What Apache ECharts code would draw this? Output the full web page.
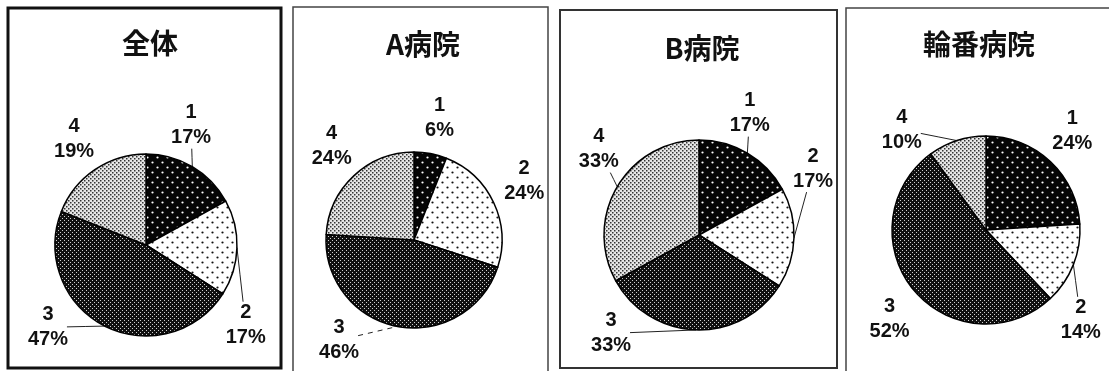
<!DOCTYPE html>
<html><head><meta charset="utf-8">
<script src="https://cdn.jsdelivr.net/npm/echarts@6/dist/echarts.min.js"></script>
<style>html,body{margin:0;padding:0;background:#fff}#c{width:1109px;height:371px}</style>
</head><body><div id="c"></div>
<script>
// ---- data ----
const titles = ['全体', 'A病院', 'B病院', '輪番病院'];
const categories = ['1', '2', '3', '4'];
const valuesAll = [17, 17, 47, 19];
const valuesA = [6, 24, 46, 24];
const valuesB = [17, 17, 33, 33];
const valuesR = [24, 14, 52, 10];
const seriesValues = [valuesAll, valuesA, valuesB, valuesR];

// ---- layout / style ----
const panels = [
  {box: [8, 8, 273, 360], border: 3, stroke: '#111', center: [146, 245], r: 91, title: [150, 43], shifts: [-10, 37, 23, 0], dash: 'solid'},
  {box: [293, 7, 255, 380], border: 1.5, stroke: '#444', center: [414, 240], r: 88, title: [423, 44], shifts: [1, -3, 26, 2], dash: [5, 5]},
  {box: [560, 10, 277, 358], border: 2, stroke: '#333', center: [699, 235], r: 95, title: [702, 48], shifts: [-8, -32, 40, 10], dash: 'solid'},
  {box: [846, 8, 280, 380], border: 1.5, stroke: '#444', center: [986, 230], r: 94, title: [979, 44], shifts: [-2, 22, -3, -22], dash: 'solid'}
];

function makePattern(size, bg, fg, dots, dotR) {
  const c = document.createElement('canvas');
  c.width = size; c.height = size;
  const g = c.getContext('2d');
  g.fillStyle = bg; g.fillRect(0, 0, size, size);
  g.fillStyle = fg;
  dots.forEach(d => {
    g.beginPath(); g.arc(d[0], d[1], dotR, 0, Math.PI * 2); g.fill();
  });
  return {image: c, repeat: 'repeat'};
}
function makePixelPattern(size, bg, fg, px) {
  const c = document.createElement('canvas');
  c.width = size; c.height = size;
  const g = c.getContext('2d');
  g.fillStyle = bg; g.fillRect(0, 0, size, size);
  g.fillStyle = fg;
  px.forEach(p => g.fillRect(p[0], p[1], p[2], p[2]));
  return {image: c, repeat: 'repeat'};
}
const fills = [
  makePattern(10, '#050505', '#ffffff', [[2.5, 2.5], [7.5, 7.5]], 1.1),
  makePattern(10, '#ffffff', '#111111', [[2.5, 2.5], [7.5, 7.5]], 1.1),
  makePixelPattern(4, '#101010', '#d0d0d0', [[0, 0, 1], [2, 2, 1]]),
  makePixelPattern(4, '#e6e6e6', '#333333', [[0, 0, 1.5], [2, 2, 1.5]])
];

function makeLabelLayout(pi) {
  return function (params) {
    const p = panels[pi];
    const vals = seriesValues[pi];
    const i = params.dataIndex;
    const total = vals.reduce((a, b) => a + b, 0);
    let cum = 0;
    for (let k = 0; k < i; k++) cum += vals[k];
    const mid = (cum + vals[i] / 2) / total * 360;
    const ang = (mid + p.shifts[i]) * Math.PI / 180;
    const D = p.r + 37;
    const cx = p.center[0] + D * Math.sin(ang);
    const cy = p.center[1] - D * Math.cos(ang);
    const m = mid * Math.PI / 180;
    const px = p.center[0] + p.r * Math.sin(m);
    const py = p.center[1] - p.r * Math.cos(m);
    const hw = params.labelRect.width / 2 - 4, hh = params.labelRect.height / 2 + 1;
    const vx = px - cx, vy = py - cy;
    const t = Math.min(vx ? hw / Math.abs(vx) : 1e9, vy ? hh / Math.abs(vy) : 1e9);
    const ex = cx + vx * t, ey = cy + vy * t;
    return {
      x: cx, y: cy, align: 'center', verticalAlign: 'middle',
      labelLinePoints: [[ex, ey], [(ex + px) / 2, (ey + py) / 2], [px, py]]
    };
  };
}

const series = panels.map((p, pi) => ({
  type: 'pie',
  center: p.center,
  radius: p.r,
  startAngle: 90,
  clockwise: true,
  silent: true,
  animation: false,
  avoidLabelOverlap: false,
  minShowLabelAngle: 0,
  emphasis: {disabled: true},
  itemStyle: {borderColor: '#000', borderWidth: 1.5},
  label: {
    show: true,
    position: 'outside',
    formatter: d => '{a|' + d.name + '}\n{a|' + d.value + '%}',
    rich: {
      a: {width: 46, align: 'center', fontSize: 20, fontWeight: 'bold',
          fontFamily: 'Liberation Sans, Arial, sans-serif', lineHeight: 25, color: '#111'}
    }
  },
  labelLine: {show: true, length: 5, length2: 5, smooth: false,
              lineStyle: {color: '#222', width: 1, type: p.dash}},
  labelLayout: makeLabelLayout(pi),
  data: categories.map((c, i) => ({
    name: c,
    value: seriesValues[pi][i],
    itemStyle: {color: fills[i]},
    labelLine: {show: Math.abs(p.shifts[i]) > 4}
  }))
}));

const graphics = [];
panels.forEach((p, pi) => {
  graphics.push({
    type: 'rect', silent: true,
    shape: {x: p.box[0], y: p.box[1], width: p.box[2], height: p.box[3]},
    style: {fill: 'none', stroke: p.stroke, lineWidth: p.border}
  });
  graphics.push({
    type: 'text', silent: true, x: p.title[0], y: p.title[1],
    style: {text: titles[pi], fill: '#111', textAlign: 'center', textVerticalAlign: 'middle',
            font: 'bold 28px "Noto Sans CJK JP", sans-serif'}
  });
});

const chart = echarts.init(document.getElementById('c'), null, {renderer: 'canvas'});
chart.setOption({
  backgroundColor: '#fff',
  animation: false,
  graphic: graphics,
  series: series
});
</script>
</body></html>
